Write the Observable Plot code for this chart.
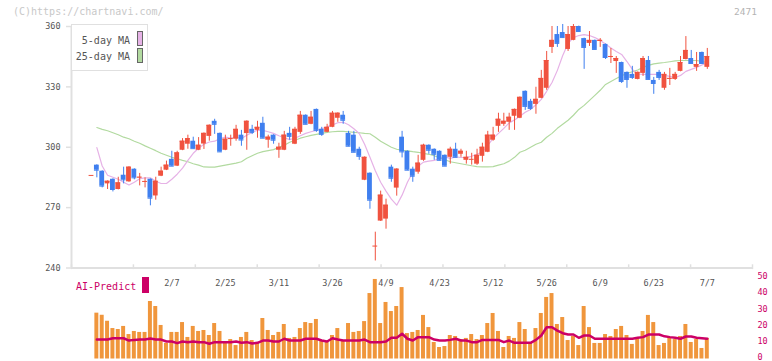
<!DOCTYPE html>
<html><head><meta charset="utf-8">
<script src="https://cdn.jsdelivr.net/npm/d3@7"></script>
<script src="https://cdn.jsdelivr.net/npm/@observablehq/plot@0.6"></script>
<style>
body{margin:0;background:#fff;}
#wrap{position:relative;width:772px;height:361px;overflow:hidden;font-family:"DejaVu Sans Mono",monospace;background:#fff;}
#main,#vol{position:absolute;left:0;}
#main{top:0;}
#vol{top:270px;}
.abs{position:absolute;white-space:pre;line-height:12px;}
</style></head>
<body>
<div id="wrap">
  <div id="main"></div>
  <div id="vol"></div>
  <div class="abs" style="left:13px;top:6px;font-size:10px;color:#c8c8c8;">(C)https://chartnavi.com/</div>
  <div class="abs" style="right:15px;top:6px;font-size:9.5px;color:#b4b4b4;">2471</div>
  <div class="abs" style="left:71px;top:24px;width:77px;height:47px;box-sizing:border-box;border:1.5px solid #e0e0e0;background:#fff;"></div>
  <div class="abs" style="right:642px;top:35px;font-size:10px;color:#555;">5-day MA</div>
  <div class="abs" style="right:642px;top:51px;font-size:10px;color:#555;">25-day MA</div>
  <div class="abs" style="left:137px;top:31px;width:6px;height:15px;box-sizing:border-box;border:1px solid #666;background:#e6b2e6;"></div>
  <div class="abs" style="left:137px;top:48px;width:6px;height:15px;box-sizing:border-box;border:1px solid #666;background:#b2daa0;"></div>
  <div class="abs" style="left:76px;top:281px;font-size:10px;color:#cc0066;">AI-Predict</div>
  <div class="abs" style="left:142px;top:277px;width:7px;height:16px;background:#cc0066;"></div>
</div>
<script>
// ---- data (trading days 1/17 .. 7/7) ----
const dateLabels = ["2/7","2/25","3/11","3/26","4/9","4/23","5/12","5/26","6/9","6/23","7/7"];
const dateIdx = [15,25,35,45,55,65,75,85,95,105,115];
const yTicks = [240,270,300,330,360];
const volTicks = [0,10,20,30,40,50];

const open = [286.0,291.1,288.1,281.8,284.1,279.0,286.1,282.8,289.1,284.9,
282.9,284.1,275.8,285.6,288.6,294.0,290.6,298.5,301.5,303.0,
298.5,301.6,305.4,312.9,306.9,298.5,304.0,304.0,306.0,306.8,
308.9,308.4,311.9,303.5,306.0,298.5,298.5,306.9,301.5,307.4,
315.9,311.4,318.8,308.9,307.4,309.9,314.4,315.9,306.9,306.0,
299.0,283.6,287.1,250.9,263.3,264.3,290.1,279.7,305.0,298.0,
289.1,287.6,293.5,301.0,299.0,298.0,296.0,295.0,299.0,296.5,
293.5,294.0,291.6,295.5,297.5,303.5,310.4,311.4,312.4,315.4,
314.4,327.8,322.8,321.3,324.3,329.3,349.6,356.0,357.0,348.6,
353.1,360.0,354.0,351.6,353.1,352.6,351.1,344.6,342.6,342.1,
337.2,336.2,333.7,336.7,343.1,333.2,337.2,329.3,334.0,333.7,
337.7,343.6,344.1,339.7,347.1,339.7];
const close = [286.0,288.6,280.7,283.1,279.0,282.3,283.8,290.1,284.8,285.1,
283.0,274.7,283.1,288.1,291.1,290.6,297.2,303.0,304.3,299.3,
301.0,306.9,310.9,311.4,297.7,304.0,304.3,308.9,303.6,312.9,
307.4,309.9,304.5,305.0,303.5,300.0,306.0,305.4,308.9,315.9,
311.4,314.9,308.4,306.4,309.9,316.9,316.9,313.4,300.5,297.5,
295.5,295.0,273.7,250.9,276.2,271.2,284.6,289.1,297.7,288.6,
285.6,292.1,301.0,298.5,296.5,293.5,290.6,299.0,295.0,298.0,
295.0,294.0,296.0,300.0,306.0,306.0,313.9,312.9,314.9,318.8,
324.8,320.3,319.3,323.8,334.2,343.1,353.1,351.6,354.5,356.0,
360.0,357.5,349.6,353.1,348.6,353.1,344.6,345.1,344.1,332.7,
333.7,334.7,337.2,344.1,333.7,331.7,334.7,336.2,334.2,336.2,
342.1,348.1,341.6,341.1,341.6,345.1];
const high = [286.0,291.3,288.3,283.3,284.3,285.1,290.1,290.3,289.3,287.0,
284.8,284.3,285.1,290.1,293.1,298.0,298.0,304.3,306.0,305.0,
304.8,307.1,311.1,313.9,307.1,306.0,306.0,310.9,308.4,313.1,
310.9,312.9,314.9,306.0,306.2,302.0,307.9,309.9,309.9,317.8,
316.1,317.8,319.0,309.9,311.4,317.8,317.1,317.8,307.9,307.9,
300.0,295.2,287.3,257.8,278.2,274.2,291.1,289.3,307.9,298.2,
290.1,296.0,301.5,301.2,299.2,298.2,296.2,300.0,302.0,299.0,
298.0,297.0,299.0,302.0,307.9,309.9,316.9,316.9,316.9,319.0,
325.0,328.0,323.8,329.8,338.2,347.6,360.0,360.0,361.0,360.0,
361.0,360.2,354.2,357.5,353.3,354.0,351.3,349.1,345.1,342.3,
337.4,340.2,337.4,345.1,345.1,334.7,338.2,337.2,339.2,337.2,
345.1,355.0,348.1,347.1,347.3,349.1];
const low = [286.0,284.8,279.8,279.0,277.8,278.8,281.8,282.6,283.8,280.8,
279.8,270.9,273.7,285.4,288.4,290.4,290.4,298.3,299.0,299.1,
298.3,298.9,303.0,306.4,297.5,298.3,300.5,303.0,300.5,298.5,
306.3,304.5,304.3,299.5,301.5,294.5,298.3,303.5,301.3,306.4,
311.2,311.2,307.4,305.4,307.2,309.7,312.4,311.4,300.3,297.3,
293.5,283.4,269.2,243.5,263.1,259.3,282.6,275.7,294.7,288.4,
282.6,286.6,293.0,296.5,293.5,293.3,290.4,291.6,294.8,295.0,
291.6,291.1,291.0,292.6,297.3,303.0,307.4,310.4,308.4,308.4,
314.2,318.3,318.3,316.4,324.1,328.3,346.6,349.6,354.3,347.6,
352.9,357.3,338.7,350.1,348.4,349.6,343.6,341.6,336.7,331.7,
329.3,333.7,333.5,335.2,333.5,326.3,333.2,328.3,330.7,333.2,
337.5,343.4,341.4,337.7,341.4,338.7];
const ma5 = [null,299.8,290.7,286.1,285.1,284.1,282.6,281.2,282.6,284.4,
284.8,284.8,283.1,282.0,282.0,284.1,286.6,289.6,293.5,297.0,
299.5,301.5,302.6,303.0,304.3,305.0,304.5,305.1,304.3,306.0,
307.4,308.5,308.4,307.7,306.9,305.7,304.7,303.8,304.5,305.7,
306.9,307.7,308.4,309.2,310.1,311.1,312.2,312.4,311.2,309.2,
306.8,301.5,295.0,288.3,282.6,278.2,274.2,271.2,276.2,282.6,
287.6,290.6,292.6,293.1,293.5,294.4,295.2,294.5,295.2,294.9,
295.0,295.5,296.5,297.7,300.9,304.4,306.9,309.4,312.1,313.6,
315.4,317.4,318.8,321.1,323.8,327.8,332.2,338.2,345.6,351.6,
354.5,355.5,356.0,355.5,354.5,353.1,351.3,349.3,347.6,346.1,
342.6,338.7,336.4,336.2,336.2,336.2,336.2,335.7,335.2,334.5,
335.7,337.7,338.7,339.7,340.9,342.1];
const ma25 = [null,309.8,308.9,308.2,307.2,306.2,305.0,304.2,303.0,302.0,
300.7,299.5,298.3,297.0,296.0,295.0,294.3,293.5,292.8,291.8,
291.1,290.2,290.1,290.1,290.6,291.1,291.6,292.1,292.8,294.5,
295.8,297.0,297.8,298.3,298.8,300.0,301.0,302.5,303.5,304.5,
305.2,305.9,306.4,306.9,307.4,307.7,307.9,307.9,307.7,307.4,
307.2,306.9,306.7,305.0,303.0,301.5,300.0,299.0,298.5,298.2,
297.8,297.5,297.0,296.5,295.8,294.8,293.8,292.8,292.3,291.8,
291.3,290.8,290.4,290.2,290.2,290.4,291.1,291.8,293.1,295.0,
297.5,298.5,300.0,301.5,302.5,305.0,306.9,309.4,311.4,313.4,
315.9,318.8,320.8,323.3,325.8,328.3,331.2,332.7,334.2,335.5,
336.7,337.5,338.4,339.7,340.7,341.4,341.8,342.1,342.5,342.9,
343.1,343.1,343.1,343.1,342.6,342.1];
const volume = [null,28.3,27.0,23.3,18.8,18.2,20.1,15.1,17.0,16.4,
16.4,35.5,32.4,20.7,9.6,16.4,16.4,22.5,13.3,20.1,
17.0,17.6,14.5,21.9,17.0,10.2,12.0,8.3,13.3,16.4,
11.4,10.2,25.0,17.6,14.5,16.4,21.3,12.7,13.3,18.8,
22.5,21.9,24.4,11.4,10.2,14.5,18.8,10.8,21.9,16.4,
17.0,23.1,40.4,49.1,21.9,34.9,29.3,32.4,44.1,15.7,
16.4,17.6,26.9,19.4,10.2,7.1,7.7,14.5,13.9,12.0,
12.7,15.1,12.0,14.5,21.9,28.1,17.0,7.1,13.9,12.7,
22.5,18.2,10.2,18.8,28.1,38.0,40.4,21.3,25.6,11.4,
13.9,8.3,32.4,19.4,9.6,9.6,15.1,13.9,18.2,20.1,
14.5,9.0,13.3,17.0,26.9,22.5,8.3,9.6,13.3,12.0,
13.9,21.3,10.2,12.0,6.5,12.7];
const aiPredict = [null,12.0,12.0,12.0,12.8,12.8,12.8,11.4,11.8,12.0,
12.0,12.6,12.0,12.0,10.8,10.8,9.8,10.8,10.4,10.8,
10.4,10.4,9.4,10.4,10.4,10.4,10.4,10.8,10.0,10.4,
9.6,10.0,11.4,11.4,10.8,10.8,12.5,11.4,11.4,11.4,
12.5,12.5,12.5,11.4,10.8,12.8,12.0,11.4,11.4,11.4,
11.4,12.0,10.4,10.4,10.4,10.8,13.1,13.1,15.6,12.5,
11.4,13.5,13.5,13.5,12.0,11.4,11.4,11.8,12.5,11.4,
11.4,10.4,10.4,11.8,11.8,11.8,11.8,10.4,11.4,10.0,
10.0,10.0,10.0,11.8,14.5,19.6,19.6,17.5,15.9,15.1,
15.1,13.1,14.5,14.5,12.5,12.5,12.5,12.5,12.5,12.5,
12.5,12.5,13.1,13.5,15.1,15.1,15.1,14.0,13.5,13.1,
12.5,13.9,13.9,13.1,12.8,12.5];

// ---- styling ----
const RED="#f0523f", BLUE="#3f7fef", PINK="#e6b2e6", GREEN="#b2daa0",
      ORANGE="#f0963c", MAGENTA="#cc0066", AXIS="#e0e0e0", TXT="#555555";
const FONT = "'DejaVu Sans Mono', monospace";
const xDomain = [-3.735, 123.44];

const n = close.length;
const idx = d3.range(n);
const candles = idx.map(i => ({i, o: open[i], h: high[i], l: low[i], c: close[i]}));
const isUp = d => d.c >= d.o;
const isDown = d => d.c < d.o;
const gridTicks = d3.range(12).map(k => xDomain[0] + k * (xDomain[1] - xDomain[0]) / 11);
const bw = 0.45;

const main = Plot.plot({
  width: 772, height: 361,
  marginLeft: 71, marginRight: 20, marginTop: 26, marginBottom: 93.5,
  x: {domain: xDomain, label: null},
  y: {domain: [240, 360], label: null},
  style: {fontFamily: FONT, fontSize: "8.5px", background: "transparent", overflow: "visible"},
  marks: [
    Plot.ruleY([240], {stroke: AXIS, strokeWidth: 2}),
    Plot.ruleX([xDomain[0]], {y1: 240, y2: 360, stroke: AXIS, strokeWidth: 2}),
    Plot.ruleX(gridTicks, {y1: 239.2, y2: 241.6, stroke: AXIS, strokeWidth: 1.5}),
    Plot.axisY({ticks: yTicks, tickSize: 5, tickPadding: 6, stroke: AXIS, strokeWidth: 1.5, fill: TXT, label: null, tickFormat: d => String(d)}),
    Plot.axisX({ticks: dateIdx, tickSize: 0, tickPadding: 12, fill: TXT, label: null, tickFormat: d => dateLabels[dateIdx.indexOf(d)]}),
    Plot.line(idx, {x: i => i, y: i => ma25[i], stroke: GREEN, strokeWidth: 1.2}),
    Plot.line(idx, {x: i => i, y: i => ma5[i], stroke: PINK, strokeWidth: 1.2}),
    Plot.ruleX(candles, {filter: isUp, x: "i", y1: "l", y2: "h", stroke: RED, strokeWidth: 1}),
    Plot.ruleX(candles, {filter: isDown, x: "i", y1: "l", y2: "h", stroke: BLUE, strokeWidth: 1}),
    Plot.rect(candles, {filter: isUp, x1: d => d.i - bw, x2: d => d.i + bw, y1: "o", y2: "c", fill: RED}),
    Plot.rect(candles, {filter: isDown, x1: d => d.i - bw, x2: d => d.i + bw, y1: "o", y2: "c", fill: BLUE}),
    Plot.ruleY(candles, {filter: isUp, y: "c", x1: d => d.i - bw, x2: d => d.i + bw, stroke: RED, strokeWidth: 1}),
    Plot.ruleY(candles, {filter: isDown, y: "c", x1: d => d.i - bw, x2: d => d.i + bw, stroke: BLUE, strokeWidth: 1})
  ]
});
document.getElementById("main").appendChild(main);

const volData = idx.filter(i => volume[i] != null).map(i => ({i, v: volume[i]}));
const vol = Plot.plot({
  width: 772, height: 91,
  marginLeft: 71, marginRight: 20, marginTop: 7.5, marginBottom: 2.5,
  x: {domain: xDomain, axis: null, label: null},
  y: {domain: [0, 50], label: null},
  style: {fontFamily: FONT, fontSize: "8.5px", background: "transparent", overflow: "visible"},
  marks: [
    Plot.rectY(volData, {x1: d => d.i - 0.37, x2: d => d.i + 0.37, y: "v", fill: ORANGE}),
    Plot.line(idx, {x: i => i, y: i => aiPredict[i], stroke: MAGENTA, strokeWidth: 2.5, strokeLinejoin: "round"}),
    Plot.axisY({anchor: "right", ticks: volTicks, tickSize: 0, tickPadding: 5, dy: -1.5, fill: MAGENTA, label: null, tickFormat: d => String(d)})
  ]
});
document.getElementById("vol").appendChild(vol);
</script>
</body></html>
